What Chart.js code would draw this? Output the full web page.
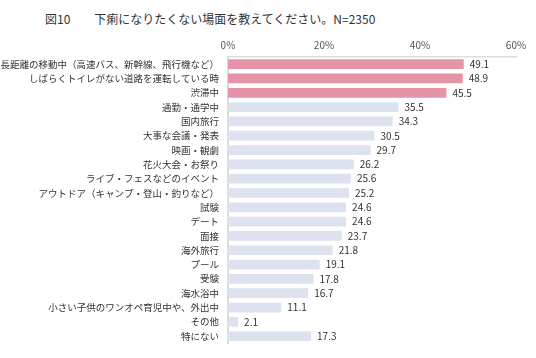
<!DOCTYPE html>
<html><head><meta charset="utf-8">
<script src="https://cdn.jsdelivr.net/npm/chart.js@4.4.1/dist/chart.umd.min.js"></script>
<style>
html,body{margin:0;padding:0;background:#fff;}
#wrap{position:relative;width:536px;height:358px;}
#title{position:absolute;left:45px;top:10px;font-family:"Noto Sans CJK JP",sans-serif;font-size:12px;color:#333;white-space:pre;line-height:18px;}
canvas{position:absolute;left:0;top:0;}
</style></head>
<body>
<div id="wrap">
<div id="title">図10　　下痢になりたくない場面を教えてください。N=2350</div>
<canvas id="c" width="536" height="358"></canvas>
</div>
<script>
const categories = ["長距離の移動中（高速バス、新幹線、飛行機など）","しばらくトイレがない道路を運転している時","渋滞中","通勤・通学中","国内旅行","大事な会議・発表","映画・観劇","花火大会・お祭り","ライブ・フェスなどのイベント","アウトドア（キャンプ・登山・釣りなど）","試験","デート","面接","海外旅行","プール","受験","海水浴中","小さい子供のワンオペ育児中や、外出中","その他","特にない"];
const values = [49.1,48.9,45.5,35.5,34.3,30.5,29.7,26.2,25.6,25.2,24.6,24.6,23.7,21.8,19.1,17.8,16.7,11.1,2.1,17.3];
const highlightCount = 3;
const tickValues = [0,20,40,60];

const colors = values.map((v,i)=> i < highlightCount ? '#E594A8' : '#DDE3EE');
const FONT = '"Noto Sans CJK JP", sans-serif';

const valueLabels = {
  id:'valueLabels',
  afterDatasetsDraw(chart){
    const ctx = chart.ctx;
    const meta = chart.getDatasetMeta(0);
    ctx.save();
    ctx.font = '10px ' + FONT;
    ctx.fillStyle = '#333';
    ctx.textBaseline = 'middle';
    ctx.textAlign = 'left';
    meta.data.forEach((bar,i)=>{
      ctx.fillText(values[i].toFixed(1), bar.x + 6, bar.y);
    });
    ctx.restore();
  }
};

new Chart(document.getElementById('c'), {
  type:'bar',
  data:{labels:categories, datasets:[{data:values, backgroundColor:colors, borderWidth:0, categoryPercentage:0.68, barPercentage:1}]},
  options:{
    indexAxis:'y',
    responsive:false,
    animation:false,
    layout:{padding:{top:0,right:20,bottom:12,left:0}},
    plugins:{legend:{display:false}, tooltip:{enabled:false}},
    scales:{
      x:{
        position:'top', min:0, max:60,
        afterFit(s){ s.height = 57; },
        afterBuildTicks(s){ s.ticks = tickValues.map(v=>({value:v})); },
        grid:{display:false, drawTicks:false},
        border:{display:true, color:'#DDDDDD', width:1.5},
        ticks:{padding:6, color:'#555', font:{family:FONT, size:10}, callback:v=>v+'%', maxRotation:0}
      },
      y:{
        afterFit(s){ s.width = 228; },
        grid:{display:false, drawTicks:false},
        border:{display:true, color:'#DDDDDD', width:2},
        ticks:{padding:9, color:'#333', font:{family:FONT, size:9.5}, autoSkip:false}
      }
    }
  },
  plugins:[valueLabels]
});
</script>
</body></html>
